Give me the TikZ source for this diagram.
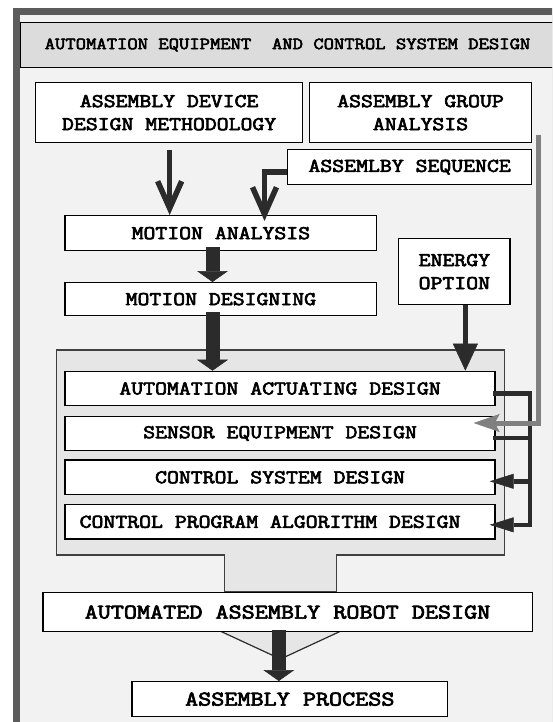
\documentclass[tikz,border=0pt]{standalone}
\usepackage{fontspec}
\newfontfamily\cour{Latin Modern Mono}[FakeBold=3]
\usetikzlibrary{arrows.meta,calc}
\definecolor{framec}{HTML}{5C5C5C}
\definecolor{bgc}{HTML}{F2F2F2}
\definecolor{titlefill}{HTML}{DCDCDC}
\definecolor{bigfill}{HTML}{E6E6E6}
\definecolor{darkc}{HTML}{2B2B2B}
\definecolor{greyarr}{HTML}{808080}
\newcommand{\hs}[1]{\scalebox{1.185}[1]{#1}}
\newcommand{\hb}[1]{\scalebox{1.21}[1]{#1}}
\tikzset{
  box/.style={draw=black, line width=1.3pt, fill=white, inner sep=0pt, anchor=north west,
    font=\cour\fontsize{19.5}{23}\selectfont, align=center},
  bigtext/.style={font=\cour\fontsize{21}{25}\selectfont},
  blockarr/.style={darkc, line width=14pt, shorten <=-4pt,
    -{Triangle[width=31pt,length=11pt,line width=0.5pt]}},
  barbarr/.style={darkc, line width=5.5pt, line join=miter,
    -{Straight Barb[length=27pt,width=24pt]}},
  energyarr/.style={darkc, line width=4.5pt, -{Triangle[width=25pt,length=27pt,line width=0.5pt]}},
  busline/.style={darkc, line width=4.5pt, line join=miter, line cap=rect},
  busarr/.style={darkc, line width=4.5pt, shorten >=-6pt, -{Triangle[width=15pt,length=24pt,line width=0.5pt]}},
  greyline/.style={greyarr, line width=5pt, line join=miter, shorten >=-22pt,
    -{Stealth[length=26pt,width=18pt,inset=5pt,line width=0.5pt]}}
}
\begin{document}
\begin{tikzpicture}[x=1pt,y=-1pt]
\useasboundingbox (0,0) rectangle (552,722);
\clip (0,0) rectangle (552,722);
% frame and background
\fill[framec] (12.7,8) rectangle (600,760);
\fill[bgc] (20,15.5) rectangle (600,760);
% title
\node[box, fill=titlefill, minimum width=560, minimum height=45] (titlebox) at (20,22) {};
\node[font=\cour\fontsize{17}{20}\selectfont, inner sep=0pt] (titletext) at (287.5,45)
  {\scalebox{1.18}[1]{AUTOMATION EQUIPMENT\ \ AND CONTROL SYSTEM DESIGN}};
% top boxes
\node[box, minimum width=267, minimum height=60] (dev) at (35,82) {\hs{ASSEMBLY DEVICE}\\\hs{DESIGN METHODOLOGY}};
\node[box, minimum width=222.3, minimum height=60] (grp) at (308.7,82) {\hs{ASSEMBLY GROUP}\\\hs{ANALYSIS}};
\node[box, minimum width=244, minimum height=35] (seq) at (287,149) {\hs{ASSEMLBY SEQUENCE}};
\node[box, minimum width=311.6, minimum height=35] (ma) at (64.4,215) {\hs{MOTION ANALYSIS}};
\node[box, minimum width=311.6, minimum height=33] (md) at (64.4,282) {\hs{MOTION DESIGNING}};
\node[box, minimum width=111.4, minimum height=66] (en) at (398,238) {\hs{ENERGY}\\\hs{OPTION}};
% big funnel box
\filldraw[fill=bigfill, draw=darkc!90, line width=1.3pt]
  (56.3,350) -- (504.4,350) -- (504.4,555) -- (336.2,555) -- (336.2,592)
  -- (224.3,592) -- (224.3,555) -- (56.3,555) -- cycle;
\node[box, minimum width=430, minimum height=34.3] (aad) at (64.4,370.7) {\hs{AUTOMATION ACTUATING DESIGN}};
\node[box, minimum width=430, minimum height=34.3] (sed) at (64.4,415.7) {\hs{SENSOR EQUIPMENT DESIGN}};
\node[box, minimum width=430, minimum height=34.7] (csd) at (64.4,459.3) {\hs{CONTROL SYSTEM DESIGN}};
\node[box, minimum width=430, minimum height=34.3] (cpad) at (64.4,504) {\hs{CONTROL PROGRAM ALGORITHM DESIGN}\kern20pt};
% lower funnel
\filldraw[fill=bigfill, draw=darkc, line width=1.2pt] (220,631) -- (341,631) -- (280.5,659) -- cycle;
\node[box, bigtext, minimum width=489.3, minimum height=39] (robot) at (42.2,592) {\hb{AUTOMATED ASSEMBLY ROBOT DESIGN}};
\node[box, bigtext, minimum width=315.7, minimum height=35] (proc) at (131.3,681) {\hb{ASSEMBLY PROCESS}};
% helper coordinates
\coordinate (bx) at (212.5,0);
\coordinate (bx2) at (278.8,0);
\coordinate (sx) at (264.5,0);
\coordinate (busx) at (530,0);
\coordinate (gtop) at (538.5,135);
% barb arrows
\draw[barbarr, shorten <=7pt] ([xshift=0.5pt]dev.south) -- ([xshift=0.5pt]dev.south |- ma.north);
\draw[barbarr, shorten >=-6pt] ([yshift=-5pt]seq.west) -| (sx |- ma.north);
% block arrows
\draw[blockarr] (ma.south -| bx) -- (md.north -| bx);
\draw[blockarr] (md.south -| bx) -- (aad.north -| bx);
% energy
\draw[energyarr] ([xshift=11pt]en.south) -- ([xshift=11pt]en.south |- aad.north);
% bus
\draw[busline] ([yshift=-4.8pt]aad.east) -| ([yshift=-3pt]cpad.east -| busx);
\draw[busline] ([yshift=-4.5pt]sed.east) -- ([yshift=-4.5pt]sed.east -| busx);
\draw[busarr] ([yshift=-4pt]csd.east -| busx) -- ([yshift=-4pt]csd.east);
\draw[busarr] ([yshift=-3pt]cpad.east -| busx) -- ([yshift=-3pt]cpad.east);
% grey feedback
\draw[greyline] (gtop) |- ([yshift=10.5pt]sed.east);
% robot to process
\draw[blockarr, shorten <=-2pt] (robot.south -| bx2) -- (proc.north -| bx2);
\end{tikzpicture}
\end{document}
